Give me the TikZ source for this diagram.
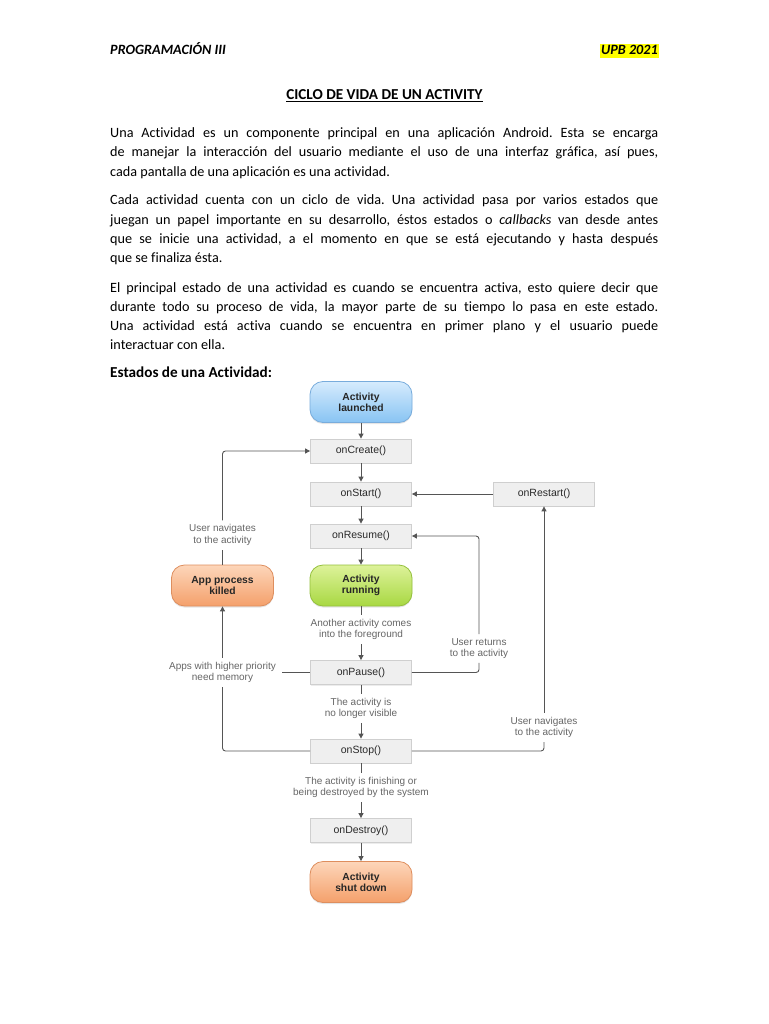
\documentclass[tikz,border=0pt]{standalone}
\usepackage{fontspec}
\setmainfont{Carlito}[Ligatures=NoCommon]
\newfontfamily\diagfont{Liberation Sans}
\usetikzlibrary{arrows.meta,shadows}
\definecolor{boxfill}{HTML}{EFEFEF}
\definecolor{boxline}{HTML}{CFCFCF}
\definecolor{boxtext}{HTML}{2A2A2A}
\definecolor{connc}{HTML}{555555}
\definecolor{lbltext}{HTML}{666666}
\definecolor{bluetop}{HTML}{D6ECFD}
\definecolor{bluebot}{HTML}{88C3F3}
\definecolor{blueline}{HTML}{78ACDC}
\definecolor{greentop}{HTML}{DDF29A}
\definecolor{greenbot}{HTML}{A8D842}
\definecolor{greenline}{HTML}{94C03C}
\definecolor{orangetop}{HTML}{FDD6BA}
\definecolor{orangebot}{HTML}{F4A06B}
\definecolor{orangeline}{HTML}{DE8E5E}
\definecolor{hl}{HTML}{FFFF00}
\begin{document}
\frenchspacing
\begin{tikzpicture}[x=1pt,y=-1pt,
  body/.style={anchor=base west, inner sep=0pt, font=\frenchspacing\fontsize{14.2}{19.3}\selectfont},
  head/.style={anchor=base west, inner sep=0pt, font=\frenchspacing\fontsize{15.2}{19.3}\selectfont},
  cb/.style={draw=boxline, fill=boxfill, line width=0.8pt, minimum width=101pt, minimum height=24pt, inner sep=0pt,
    font=\diagfont\fontsize{10.5}{12}\selectfont, text=boxtext,
    drop shadow={shadow xshift=0pt, shadow yshift=-1pt, opacity=0.15}},
  pill/.style={rounded corners=13pt, line width=0.8pt, minimum width=102pt, minimum height=41pt, inner sep=0pt, align=center,
    font=\diagfont\bfseries\fontsize{10.3}{11}\selectfont, text=black!85,
    drop shadow={shadow xshift=0pt, shadow yshift=-1.5pt, opacity=0.2}},
  bluepill/.style={pill, draw=blueline, top color=bluetop, bottom color=bluebot},
  greenpill/.style={pill, draw=greenline, top color=greentop, bottom color=greenbot},
  orangepill/.style={pill, draw=orangeline, top color=orangetop, bottom color=orangebot},
  lbl/.style={align=center, inner xsep=6pt, inner ysep=4pt, font=\diagfont\fontsize{10}{11.5}\selectfont, text=lbltext},
  conn/.style={draw=connc, line width=0.9pt},
  arr/.style={conn, -{Triangle[length=5pt,width=5pt]}},
]
\fill[white] (0,0) rectangle (768,1024);
\useasboundingbox (0,0) rectangle (768,1024);

% header
\node[anchor=base west, inner sep=0pt, font=\fontsize{14.2}{16}\selectfont] (hleft) at (110,55) {\textbf{\textit{PROGRAMACIÓN III}}};
\node[anchor=base east, inner xsep=1pt, inner ysep=0pt, fill=hl, text height=10.5pt, text depth=3.5pt, font=\fontsize{14.2}{16}\selectfont] (hright) at (659,55) {\textbf{\textit{UPB 2021}}};
\node[anchor=base, inner sep=0pt, font=\fontsize{15.2}{16}\selectfont] (title) at (384.5,100) {\underline{\textbf{CICLO DE VIDA DE UN ACTIVITY}}};

% paragraph 1
\node[body] (p1a) at (110,137.5) {\makebox[548pt][s]{Una Actividad es un componente principal en una aplicación Android. Esta se encarga}};
\node[body] (p1b) at (110,156.8) {\makebox[548pt][s]{de manejar la interacción del usuario mediante el uso de una interfaz gráfica, así pues,}};
\node[body] (p1c) at (110,176.1) {cada pantalla de una aplicación es una actividad.};
% paragraph 2
\node[body] (p2a) at (110,204.8) {\makebox[548pt][s]{Cada actividad cuenta con un ciclo de vida. Una actividad pasa por varios estados que}};
\node[body] (p2b) at (110,224.1) {\makebox[548pt][s]{juegan un papel importante en su desarrollo, éstos estados o \textit{callbacks} van desde antes}};
\node[body] (p2c) at (110,243.4) {\makebox[548pt][s]{que se inicie una actividad, a el momento en que se está ejecutando y hasta después}};
\node[body] (p2d) at (110,262.7) {que se finaliza ésta.};
% paragraph 3
\node[body] (p3a) at (110,292) {\makebox[548pt][s]{El principal estado de una actividad es cuando se encuentra activa, esto quiere decir que}};
\node[body] (p3b) at (110,311.3) {\makebox[548pt][s]{durante todo su proceso de vida, la mayor parte de su tiempo lo pasa en este estado.}};
\node[body] (p3c) at (110,330.6) {\makebox[548pt][s]{Una actividad está activa cuando se encuentra en primer plano y el usuario puede}};
\node[body] (p3d) at (110,349.9) {interactuar con ella.};
\node[head] (estados) at (110,377.5) {\textbf{Estados de una Actividad:}};

% diagram nodes
\node[bluepill] (launched) at (361,402) {Activity\\launched};
\node[cb] (onCreate) at (361,451) {onCreate()};
\node[cb] (onStart) at (361,494) {onStart()};
\node[cb] (onRestart) at (544,494) {onRestart()};
\node[cb] (onResume) at (361,536) {onResume()};
\node[greenpill] (running) at (361,585.5) {Activity\\running};
\node[orangepill] (killed) at (222.5,585.5) {App process\\killed};
\node[cb] (onPause) at (361,672.5) {onPause()};
\node[cb] (onStop) at (361,751) {onStop()};
\node[cb] (onDestroy) at (361,830.5) {onDestroy()};
\node[orangepill] (shutdown) at (361,882) {Activity\\shut down};

% labels
\node[lbl] (lbFg) at (361,629.5) {Another activity comes\\into the foreground};
\node[lbl] (lbVis) at (361,708.5) {The activity is\\no longer visible};
\node[lbl] (lbFin) at (361,787.5) {The activity is finishing or\\being destroyed by the system};
\node[lbl] (lbMem) at (222.5,672.5) {Apps with higher priority\\need memory};
\node[lbl] (lbNav1) at (222.5,535) {User navigates\\to the activity};
\node[lbl] (lbRet) at (479,648.5) {User returns\\to the activity};
\node[lbl] (lbNav2) at (544,727.5) {User navigates\\to the activity};

% connectors
\draw[arr] (launched) -- (onCreate);
\draw[arr] (onCreate) -- (onStart);
\draw[arr] (onStart) -- (onResume);
\draw[arr] (onResume) -- (running);
\draw[conn] (running) -- (lbFg);
\draw[arr] (lbFg) -- (onPause);
\draw[conn] (onPause) -- (lbVis);
\draw[arr] (lbVis) -- (onStop);
\draw[conn] (onStop) -- (lbFin);
\draw[arr] (lbFin) -- (onDestroy);
\draw[arr] (onDestroy) -- (shutdown);
\draw[arr] (onRestart) -- (onStart);
\draw[conn, rounded corners=3pt] (onPause.east) -| (lbRet.south);
\draw[arr, rounded corners=3pt] (lbRet.north) |- (onResume.east);
\draw[conn, rounded corners=3pt] (onStop.east) -| (lbNav2.south);
\draw[arr] (lbNav2) -- (onRestart);
\draw[conn, rounded corners=3pt] (onStop.west) -| (lbMem.south);
\draw[conn] (onPause.west) -- (lbMem.east);
\draw[arr] (lbMem) -- (killed);
\draw[conn] (killed) -- (lbNav1);
\draw[arr, rounded corners=3pt] (lbNav1.north) |- (onCreate.west);
\end{tikzpicture}
\end{document}
